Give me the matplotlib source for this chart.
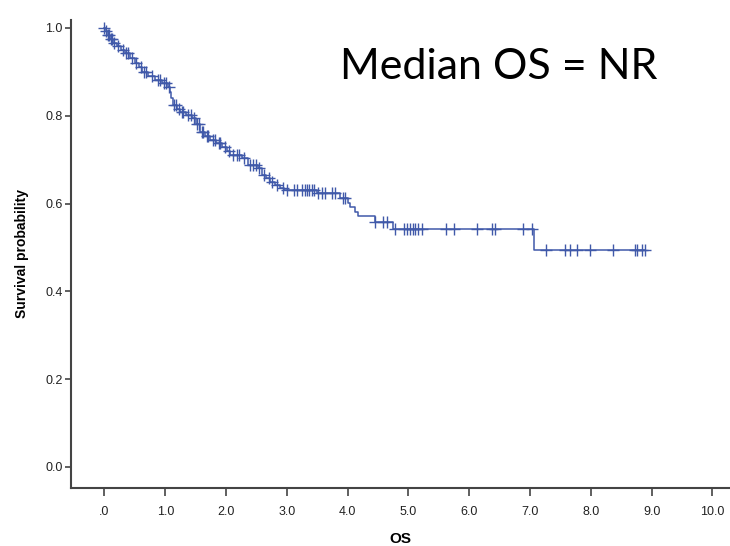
import numpy as np
import matplotlib
matplotlib.use("Agg")
import matplotlib.pyplot as plt

# step points: time, survival after the event
event_times = [0.02, 0.05, 0.09, 0.14, 0.20, 0.27, 0.34, 0.42, 0.50, 0.56,
               0.62, 0.72, 0.83, 0.95, 1.05, 1.08, 1.10, 1.13, 1.20, 1.25,
               1.34, 1.44, 1.50, 1.57, 1.65, 1.74, 1.84, 1.94, 2.02, 2.07,
               2.26, 2.36, 2.53, 2.59, 2.66, 2.73, 2.80, 2.89, 2.95, 3.50,
               3.88, 4.00, 4.04, 4.12, 4.17, 4.45, 4.74, 7.06]
surv_after = [0.993, 0.984, 0.975, 0.966, 0.958, 0.950, 0.943, 0.931, 0.920, 0.910,
              0.900, 0.891, 0.882, 0.875, 0.866, 0.854, 0.840, 0.825, 0.816, 0.809,
              0.802, 0.795, 0.781, 0.763, 0.754, 0.745, 0.737, 0.729, 0.720, 0.711,
              0.704, 0.688, 0.681, 0.665, 0.657, 0.649, 0.642, 0.636, 0.631, 0.624,
              0.613, 0.602, 0.592, 0.580, 0.572, 0.558, 0.542, 0.493]

# censored times (the + marks)
censor_times = [0.0, 0.03, 0.06, 0.08, 0.10, 0.12, 0.16, 0.22, 0.30, 0.36,
                0.38, 0.45, 0.52, 0.60, 0.65, 0.68, 0.78, 0.88, 0.92, 0.98,
                1.02, 1.06, 1.15, 1.18, 1.22, 1.28, 1.30, 1.38, 1.42, 1.47,
                1.52, 1.55, 1.60, 1.62, 1.68, 1.70, 1.78, 1.82, 1.88, 1.90,
                1.98, 2.05, 2.12, 2.18, 2.22, 2.30, 2.40, 2.45, 2.50, 2.55,
                2.62, 2.70, 2.76, 2.84, 2.94, 3.00, 3.11, 3.16, 3.25, 3.30,
                3.33, 3.36, 3.41, 3.44, 3.52, 3.58, 3.63, 3.74, 3.79, 3.93,
                3.96, 4.45, 4.59, 4.65, 4.78, 4.92, 4.97, 5.03, 5.08, 5.11,
                5.16, 5.22, 5.62, 5.75, 6.12, 6.37, 6.43, 6.89, 7.03, 7.26,
                7.58, 7.65, 7.77, 7.99, 8.36, 8.73, 8.76, 8.84, 8.89]

x_ticks = [0, 1, 2, 3, 4, 5, 6, 7, 8, 9, 10]
x_tick_labels = [".0", "1.0", "2.0", "3.0", "4.0", "5.0", "6.0", "7.0", "8.0", "9.0", "10.0"]
y_ticks = [0.0, 0.2, 0.4, 0.6, 0.8, 1.0]
y_tick_labels = ["0.0", "0.2", "0.4", "0.6", "0.8", "1.0"]

blue = "#4059a9"

fig = plt.figure(figsize=(7.3, 5.46), dpi=100)
ax = fig.add_axes([0.0973, 0.1062, 0.9027, 0.858])

t_all = np.concatenate([[0.0], event_times])
s_all = np.concatenate([[1.0], surv_after])
end_t = max(censor_times)
t_line = np.append(t_all, end_t)
s_line = np.append(s_all, s_all[-1])
ax.plot(t_line, s_line, drawstyle="steps-post", color=blue, lw=1.1)

# place censor marks on the step curve
idx = np.searchsorted(t_all, censor_times, side="right") - 1
ax.plot(censor_times, s_all[idx], ls="none", marker="+", ms=8, mew=1.0, color=blue)

ax.set_xlim(-0.55, 10.29)
ax.set_ylim(-0.048, 1.019)
ax.set_xticks(x_ticks)
ax.set_xticklabels(x_tick_labels)
ax.set_yticks(y_ticks)
ax.set_yticklabels(y_tick_labels)

for s in ["top", "right"]:
    ax.spines[s].set_visible(False)
for s in ["left", "bottom"]:
    ax.spines[s].set_color("#444444")
    ax.spines[s].set_linewidth(1.5)

ax.tick_params(axis="x", length=6, width=1.2, color="#444444", labelsize=9, pad=7,
               labelcolor="#222222")
ax.tick_params(axis="y", length=4, width=1.2, color="#444444", labelsize=9, pad=2,
               labelcolor="#222222")
for lab in ax.get_xticklabels() + ax.get_yticklabels():
    lab.set_family("Liberation Sans")

ax.set_xlabel("OS", fontsize=11, fontweight="bold", family="Liberation Sans", labelpad=10)
ax.set_ylabel("Survival probability", fontsize=10, fontweight="bold",
              family="Liberation Sans", labelpad=12)

fig.text(0.4657, 0.855, "Median OS = NR", fontsize=31, family="Lato", color="black")

fig.savefig("out.png", dpi=100)
